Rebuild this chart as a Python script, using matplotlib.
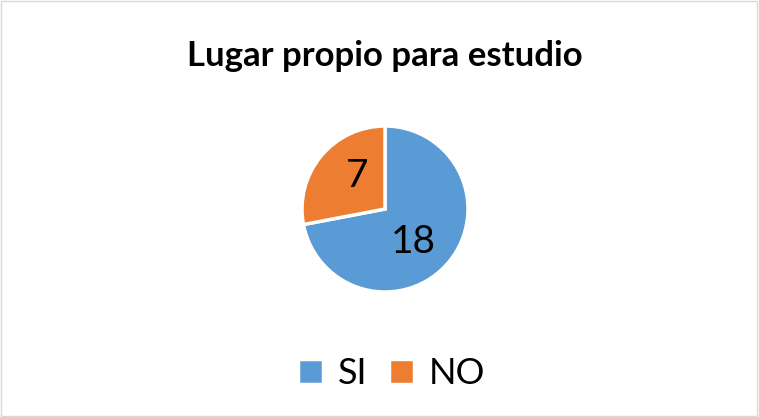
import matplotlib
matplotlib.use("Agg")
import numpy as np
import matplotlib.pyplot as plt
from matplotlib.patches import Rectangle

plt.rcParams['font.family'] = ['Lato', 'DejaVu Sans']

labels = ["SI", "NO"]
values = [18, 7]
colors = ["#5B9BD5", "#ED7D31"]
title = "Lugar propio para estudio"

fig = plt.figure(figsize=(7.59, 4.17), dpi=100)

# light border like the Excel chart area
fig.patches.append(Rectangle((0.001, 0.002), 0.997, 0.995, transform=fig.transFigure,
                             fill=False, edgecolor="#D9D9D9", linewidth=1))

fig.text(0.507, 1 - 56 / 417, title, ha="center", va="center",
         fontsize=25, fontweight="bold")

# pie axes: centre ~(385,209) px, radius ~83 px
r = 83
cx, cy = 385, 209
ax = fig.add_axes([(cx - r) / 759, 1 - (cy + r) / 417, 2 * r / 759, 2 * r / 417])
wedges, texts = ax.pie(values, colors=colors, startangle=90, counterclock=False,
                       wedgeprops=dict(edgecolor="white", linewidth=2.5))
# data labels, placed a little clockwise of the wedge middle (Excel best fit)
for w, v in zip(wedges, values):
    mid = np.deg2rad((w.theta1 + w.theta2) / 2 - 10)
    ax.text(0.52 * np.cos(mid), 0.52 * np.sin(mid), str(v),
            ha="center", va="center", fontsize=28)
ax.set_aspect("equal")
ax.set_xlim(-1, 1)
ax.set_ylim(-1, 1)

fig.legend(wedges, labels, loc="center", bbox_to_anchor=(0.516, 1 - 374 / 417),
           ncol=2, frameon=False, fontsize=26, handlelength=0.68, handleheight=0.68,
           handletextpad=0.42, columnspacing=0.6)

fig.savefig("out.png", dpi=100)
